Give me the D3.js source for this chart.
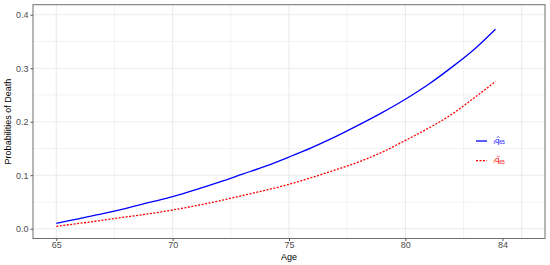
<!DOCTYPE html>
<html>
<head>
  <script src="https://d3js.org/d3.v7.min.js"></script>
  <style>
    body { margin: 0; background: #fff; }
    text { font-family: "Liberation Sans", Arial, sans-serif; }
    .grid line { stroke: #ebebeb; }
  </style>
</head>
<body>
  <svg id="chart" width="550" height="265"></svg>
  <script>
    // data
    const ages = [65, 66, 67, 68, 69, 70, 71, 72, 73, 74, 75, 76, 77, 78, 79, 80, 81, 82, 83, 83.87];
    const qHat = [0.010, 0.019, 0.028, 0.038, 0.049, 0.060, 0.073, 0.087, 0.102, 0.117, 0.134,
                  0.152, 0.172, 0.194, 0.217, 0.242, 0.270, 0.302, 0.337, 0.373];
    const qTilde = [0.0045, 0.010, 0.016, 0.022, 0.028, 0.035, 0.043, 0.052, 0.062, 0.072, 0.083,
                    0.096, 0.110, 0.125, 0.143, 0.165, 0.188, 0.214, 0.246, 0.275];
    const xTickVals = [65, 70, 75, 80, 84.17];
    const xTickLabels = ["65", "70", "75", "80", "84"];
    const xMajorGrid = [65, 70, 75, 80, 85];
    const xMinorGrid = [67.5, 72.5, 77.5, 82.5];
    const yTicks = [0, 0.1, 0.2, 0.3, 0.4];
    const yMinorGrid = [0.05, 0.15, 0.25, 0.35];

    const svg = d3.select("svg#chart");
    const panel = { left: 33, right: 545, top: 4.7, bottom: 238.5 };

    const x = d3.scaleLinear().domain([64, 86]).range([panel.left, panel.right]);
    const y = d3.scaleLinear().domain([-0.0183, 0.4187]).range([panel.bottom, panel.top]);

    svg.append("rect").attr("width", 550).attr("height", 265).attr("fill", "#fff");

    // gridlines
    const grid = svg.append("g").attr("class", "grid");
    grid.selectAll("line.ymin").data(yMinorGrid).join("line")
      .attr("x1", panel.left).attr("x2", panel.right)
      .attr("y1", d => y(d)).attr("y2", d => y(d))
      .attr("stroke-width", 0.6);
    grid.selectAll("line.xmin").data(xMinorGrid).join("line")
      .attr("y1", panel.top).attr("y2", panel.bottom)
      .attr("x1", d => x(d)).attr("x2", d => x(d))
      .attr("stroke-width", 0.6);
    grid.selectAll("line.ymaj").data(yTicks).join("line")
      .attr("x1", panel.left).attr("x2", panel.right)
      .attr("y1", d => y(d)).attr("y2", d => y(d))
      .attr("stroke-width", 1.1);
    grid.selectAll("line.xmaj").data(xMajorGrid).join("line")
      .attr("y1", panel.top).attr("y2", panel.bottom)
      .attr("x1", d => x(d)).attr("x2", d => x(d))
      .attr("stroke-width", 1.1);

    // curves
    const line = d3.line().curve(d3.curveMonotoneX).x(d => x(d[0])).y(d => y(d[1]));
    svg.append("path")
      .datum(ages.map((a, i) => [a, qHat[i]]))
      .attr("d", line)
      .attr("fill", "none")
      .attr("stroke", "#0000ff")
      .attr("stroke-width", 1.3);
    svg.append("path")
      .datum(ages.map((a, i) => [a, qTilde[i]]))
      .attr("d", line)
      .attr("fill", "none")
      .attr("stroke", "#ff0000")
      .attr("stroke-width", 1.3)
      .attr("stroke-dasharray", "2,1.5");

    // panel border
    svg.append("rect")
      .attr("x", panel.left).attr("y", panel.top)
      .attr("width", panel.right - panel.left).attr("height", panel.bottom - panel.top)
      .attr("fill", "none").attr("stroke", "#6e6e6e").attr("stroke-width", 1);

    // axes
    const xAxis = d3.axisBottom(x).tickValues(xTickVals)
      .tickFormat((d, i) => xTickLabels[i]).tickSize(2.5).tickPadding(1);
    const yAxis = d3.axisLeft(y).tickValues(yTicks)
      .tickFormat(d3.format(".1f")).tickSize(2.5).tickPadding(2);

    const gx = svg.append("g").attr("transform", `translate(0,${panel.bottom})`).call(xAxis);
    const gy = svg.append("g").attr("transform", `translate(${panel.left},0)`).call(yAxis);
    [gx, gy].forEach(g => {
      g.select(".domain").remove();
      g.selectAll(".tick line").attr("stroke", "#555");
      g.selectAll(".tick text").attr("fill", "#4d4d4d")
        .style("font-size", "9px").style("font-family", "Liberation Sans, Arial, sans-serif");
    });

    // axis titles
    svg.append("text").text("Age")
      .attr("x", (panel.left + panel.right) / 2).attr("y", 260)
      .attr("text-anchor", "middle").style("font-size", "9px").attr("fill", "#000");
    svg.append("text").text("Probabilities of Death")
      .attr("transform", `translate(11.3,${(panel.top + panel.bottom) / 2}) rotate(-90)`)
      .attr("text-anchor", "middle").style("font-size", "9px").attr("fill", "#000");

    // legend
    const legendItems = [
      { color: "#0000ff", dash: null, accent: "hat", y: 141 },
      { color: "#ff0000", dash: "2,1.5", accent: "tilde", y: 160.7 }
    ];
    const lg = svg.append("g");
    legendItems.forEach(it => {
      lg.append("line")
        .attr("x1", 476).attr("x2", 487).attr("y1", it.y).attr("y2", it.y)
        .attr("stroke", it.color).attr("stroke-width", 1.3)
        .attr("stroke-dasharray", it.dash);
      const t = lg.append("text").attr("x", 493.5).attr("y", it.y + 2.5)
        .attr("fill", it.color);
      t.append("tspan").text("t").style("font-size", "5px");
      t.append("tspan").text("q").attr("dy", -1).style("font-size", "8px");
      t.append("tspan").text("65").attr("dy", 1.3).style("font-size", "5px");
      // accent drawn over the q
      const cx = 498.2, top = it.y - 4.6;
      const acc = it.accent === "hat"
        ? `M${cx - 1.3},${top + 1.4}L${cx},${top}L${cx + 1.3},${top + 1.4}`
        : `M${cx - 1.5},${top + 1}Q${cx - 0.75},${top - 0.2} ${cx},${top + 0.5}T${cx + 1.5},${top}`;
      lg.append("path").attr("d", acc)
        .attr("fill", "none").attr("stroke", it.color).attr("stroke-width", 0.6);
    });
  </script>
</body>
</html>
